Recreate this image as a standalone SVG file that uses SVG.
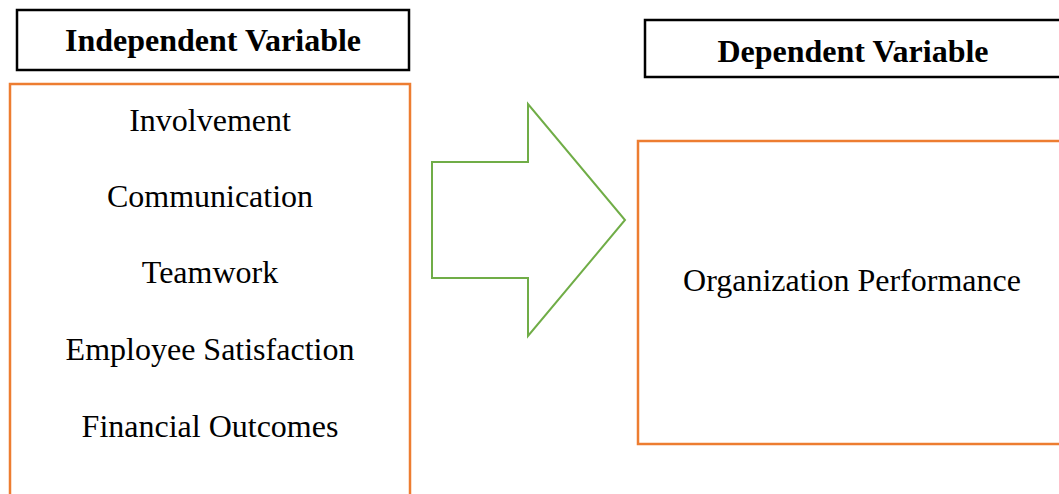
<svg xmlns="http://www.w3.org/2000/svg" width="1059" height="494" viewBox="0 0 1059 494">
<style>
.hdr{fill:#fff;stroke:#000;stroke-width:2.5}
.box{fill:#fff;stroke:#ED7D31;stroke-width:2.5}
.arrow{fill:#fff;stroke:#70AD47;stroke-width:2}
.h{font-family:"Liberation Serif",serif;font-weight:bold;font-size:32px;fill:#000;text-anchor:middle}
.t{font-family:"Liberation Serif",serif;font-size:32px;fill:#000;text-anchor:middle}
</style>
<rect width="1059" height="494" fill="#fff"/>
<g id="independent-header">
<rect class="hdr" x="17" y="10" width="392" height="60"/>
<text class="h" x="213" y="51">Independent Variable</text>
</g>
<g id="independent-box">
<rect class="box" x="10" y="84" width="400" height="430"/>
<text class="t" x="210" y="131">Involvement</text>
<text class="t" x="210" y="207">Communication</text>
<text class="t" x="210" y="283">Teamwork</text>
<text class="t" x="210" y="360">Employee Satisfaction</text>
<text class="t" x="210" y="437">Financial Outcomes</text>
</g>
<g id="connectors">
<polygon class="arrow" points="432,162 528,162 528,104 625,220 528,336 528,278 432,278"/>
</g>
<g id="dependent-header">
<rect class="hdr" x="645" y="20" width="430" height="57"/>
<text class="h" x="853" y="62">Dependent Variable</text>
</g>
<g id="dependent-box">
<rect class="box" x="638" y="141" width="440" height="303"/>
<text class="t" x="852" y="291">Organization Performance</text>
</g>
</svg>
